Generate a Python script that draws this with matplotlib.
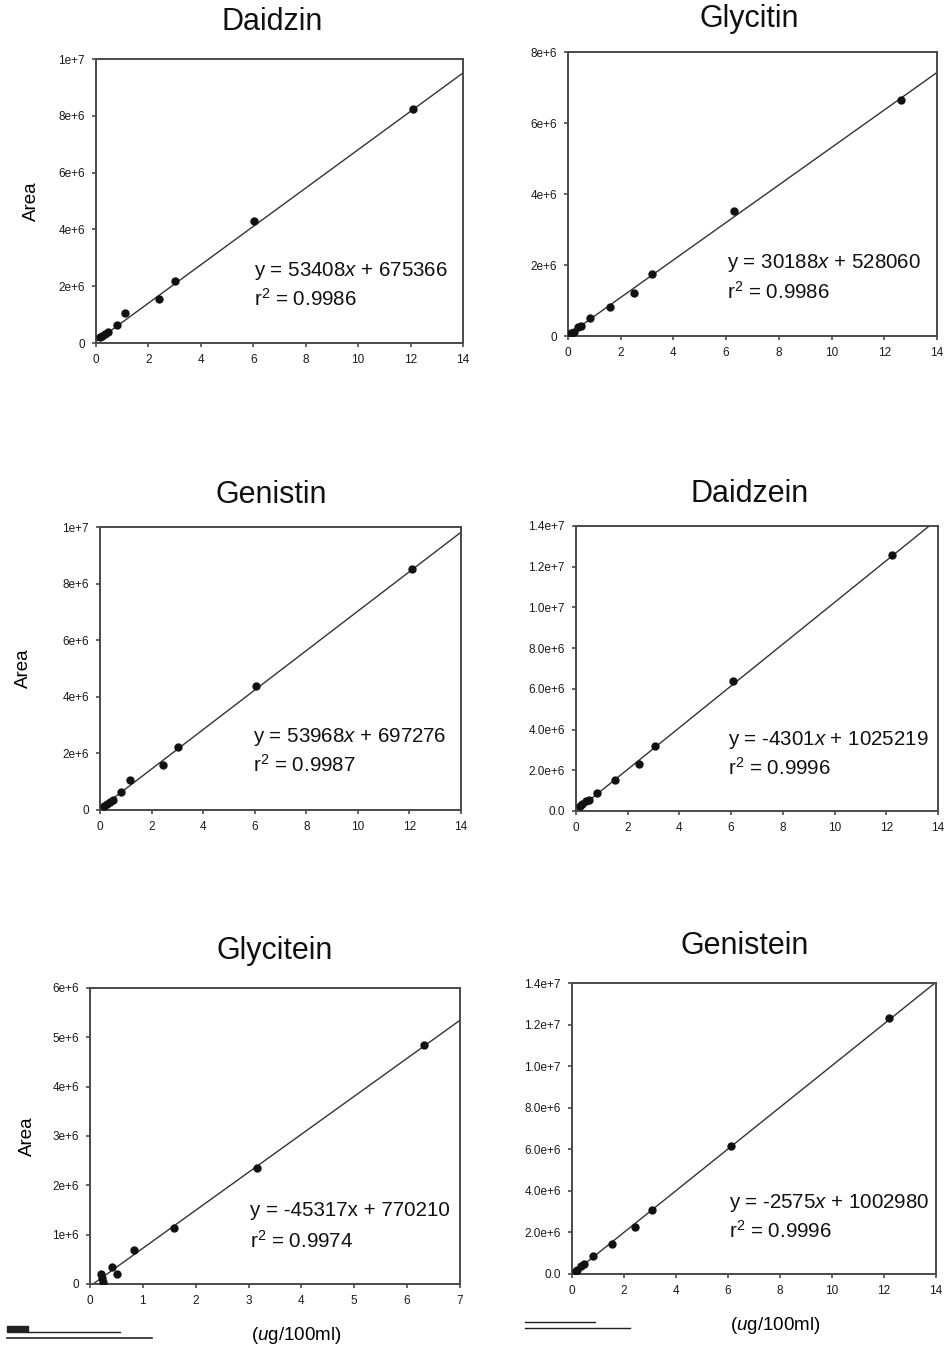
import matplotlib
matplotlib.use('Agg')
import matplotlib.pyplot as plt
from matplotlib.ticker import FixedLocator, FixedFormatter
from matplotlib.lines import Line2D
from matplotlib.patches import Rectangle

plt.rcParams['font.family'] = ['Liberation Sans', 'DejaVu Sans']
plt.rcParams['mathtext.fontset'] = 'custom'
plt.rcParams['mathtext.rm'] = 'Liberation Sans'
plt.rcParams['mathtext.it'] = 'Liberation Sans:italic'
plt.rcParams['mathtext.bf'] = 'Liberation Sans:bold'

# ---------------- data ----------------
titles = ["Daidzin", "Glycitin", "Genistin", "Daidzein", "Glycitein", "Genistein"]

daidzin_x = [12.11, 6.04, 3.02, 2.39, 1.12, 0.79, 0.47, 0.34, 0.22, 0.15]
daidzin_y = [8.24e6, 4.30e6, 2.19e6, 1.55e6, 1.05e6, 0.64e6, 0.375e6, 0.33e6, 0.26e6, 0.20e6]

glycitin_x = [12.64, 6.31, 3.18, 2.51, 1.58, 0.82, 0.51, 0.38, 0.23, 0.13]
glycitin_y = [6.64e6, 3.53e6, 1.76e6, 1.22e6, 0.83e6, 0.50e6, 0.28e6, 0.24e6, 0.12e6, 0.08e6]

genistin_x = [12.11, 6.05, 3.04, 2.43, 1.16, 0.81, 0.49, 0.39, 0.26, 0.17]
genistin_y = [8.51e6, 4.39e6, 2.24e6, 1.58e6, 1.06e6, 0.62e6, 0.35e6, 0.29e6, 0.21e6, 0.15e6]

daidzein_x = [12.21, 6.09, 3.04, 2.45, 1.52, 0.81, 0.49, 0.40, 0.23, 0.17]
daidzein_y = [12.56e6, 6.37e6, 3.19e6, 2.33e6, 1.54e6, 0.90e6, 0.56e6, 0.47e6, 0.33e6, 0.26e6]

glycitein_x = [6.32, 3.15, 1.58, 0.83, 0.51, 0.42, 0.21, 0.23, 0.25]
glycitein_y = [4.85e6, 2.36e6, 1.13e6, 0.69e6, 0.20e6, 0.35e6, 0.20e6, 0.12e6, 0.05e6]

genistein_x = [12.21, 6.11, 3.07, 2.44, 1.52, 0.81, 0.46, 0.36, 0.21, 0.14]
genistein_y = [12.32e6, 6.16e6, 3.09e6, 2.26e6, 1.44e6, 0.85e6, 0.50e6, 0.40e6, 0.21e6, 0.13e6]

# trend lines as drawn (slope, intercept)
trend_slope = [675366, 528060, 697276, 1025219, 770210, 1002980]
trend_intercept = [53408, 30188, 53968, -4301, -45317, -2575]

eq_line1 = ["y = 53408$x$ + 675366", "y = 30188$x$ + 528060", "y = 53968$x$ + 697276",
            "y = -4301$x$ + 1025219", "y = -45317x + 770210", "y = -2575$x$ + 1002980"]
eq_line2 = ["r$^2$ = 0.9986", "r$^2$ = 0.9986", "r$^2$ = 0.9987",
            "r$^2$ = 0.9996", "r$^2$ = 0.9974", "r$^2$ = 0.9996"]

x_max = [14, 14, 14, 14, 7, 14]
x_ticks = [[0, 2, 4, 6, 8, 10, 12, 14]] * 4 + [[0, 1, 2, 3, 4, 5, 6, 7]] + [[0, 2, 4, 6, 8, 10, 12, 14]]

y_ticks = [
    [0, 2e6, 4e6, 6e6, 8e6, 1e7],
    [0, 2e6, 4e6, 6e6, 8e6],
    [0, 2e6, 4e6, 6e6, 8e6, 1e7],
    [0, 2e6, 4e6, 6e6, 8e6, 1e7, 1.2e7, 1.4e7],
    [0, 1e6, 2e6, 3e6, 4e6, 5e6, 6e6],
    [0, 2e6, 4e6, 6e6, 8e6, 1e7, 1.2e7, 1.4e7],
]
y_tick_labels = [
    ["0", "2e+6", "4e+6", "6e+6", "8e+6", "1e+7"],
    ["0", "2e+6", "4e+6", "6e+6", "8e+6"],
    ["0", "2e+6", "4e+6", "6e+6", "8e+6", "1e+7"],
    ["0.0", "2.0e+6", "4.0e+6", "6.0e+6", "8.0e+6", "1.0e+7", "1.2e+7", "1.4e+7"],
    ["0", "1e+6", "2e+6", "3e+6", "4e+6", "5e+6", "6e+6"],
    ["0.0", "2.0e+6", "4.0e+6", "6.0e+6", "8.0e+6", "1.0e+7", "1.2e+7", "1.4e+7"],
]

y_label = "Area"
x_label = "($\\it{u}$g/100ml)"

series_x = [daidzin_x, glycitin_x, genistin_x, daidzein_x, glycitein_x, genistein_x]
series_y = [daidzin_y, glycitin_y, genistin_y, daidzein_y, glycitein_y, genistein_y]

# ---------------- layout ----------------
W, H = 949, 1350
fig = plt.figure(figsize=(W / 100, H / 100), dpi=100)
fig.patch.set_facecolor('white')

def rect(x0, y0, x1, y1):
    return [x0 / W, 1 - y1 / H, (x1 - x0) / W, (y1 - y0) / H]

axes_px = [(96, 59, 463, 343), (568, 52, 937, 336), (100, 527, 461, 810),
           (576, 526, 938, 811), (90, 988, 460, 1284), (572, 983, 936, 1274)]
title_px = [(272, 22), (749, 19), (271, 495), (750, 494), (275, 951), (745, 946)]
eq_pos = [(0.43, 0.255, 0.155), (0.43, 0.257, 0.155), (0.425, 0.258, 0.158),
          (0.42, 0.25, 0.15), (0.432, 0.247, 0.145), (0.43, 0.244, 0.15)]
ylabel_px = [40, None, 32, None, 36, None]
xlabel_px = [None, None, None, None, (296, 1336), (775, 1325)]

spine_col = '#4a4a4a'
for i in range(6):
    ax = fig.add_axes(rect(*axes_px[i]))
    ax.set_xlim(0, x_max[i])
    ax.set_ylim(y_ticks[i][0], y_ticks[i][-1])
    xs = [0, x_max[i]]
    ys = [trend_slope[i] * v + trend_intercept[i] for v in xs]
    ax.plot(xs, ys, color='#333333', lw=1.0, zorder=2)
    ax.plot(series_x[i], series_y[i], 'o', color='#111111', ms=5.0, zorder=3)
    ax.xaxis.set_major_locator(FixedLocator(x_ticks[i]))
    ax.xaxis.set_major_formatter(FixedFormatter([str(t) for t in x_ticks[i]]))
    ax.yaxis.set_major_locator(FixedLocator(y_ticks[i]))
    ax.yaxis.set_major_formatter(FixedFormatter(y_tick_labels[i]))
    ax.tick_params(axis='both', direction='out', length=3, width=1.2, color=spine_col,
                   labelsize=8.5, labelcolor='#1a1a1a', pad=5)
    for s in ax.spines.values():
        s.set_color(spine_col)
        s.set_linewidth(1.4)
    ex, ey1, ey2 = eq_pos[i]
    ax.text(ex, ey1, eq_line1[i], transform=ax.transAxes, fontsize=14.8,
            color='#111111', va='center', ha='left')
    ax.text(ex, ey2, eq_line2[i], transform=ax.transAxes, fontsize=14.8,
            color='#111111', va='center', ha='left')
    x0, y0, x1, y1 = axes_px[i]
    if ylabel_px[i] is not None:
        ax.set_ylabel(y_label, fontsize=13.5)
        ax.yaxis.set_label_coords((ylabel_px[i] - x0) / (x1 - x0), 0.5)
    if xlabel_px[i] is not None:
        lx, ly = xlabel_px[i]
        ax.set_xlabel(x_label, fontsize=13.5)
        ax.xaxis.set_label_coords((lx - x0) / (x1 - x0), (y1 - ly) / (y1 - y0))
        ax.xaxis.label.set_va('center')
    tx, ty = title_px[i]
    fig.text(tx / W, 1 - ty / H, titles[i], fontsize=22, ha='center', va='center',
             color='#111111')

# scan-edge marks at the bottom
def hline(x0, x1, y, lw, col='#222222'):
    fig.add_artist(Line2D([x0 / W, x1 / W], [1 - y / H, 1 - y / H], lw=lw, color=col))

fig.add_artist(Rectangle((7 / W, 1 - 1332 / H), 21 / W, 6 / H, color='#222222'))
hline(28, 120, 1332, 1.0)
hline(7, 152, 1338, 1.2)
hline(525, 595, 1322, 1.0)
hline(525, 630, 1328, 1.0)

fig.savefig('out.png', dpi=100, facecolor='white')
